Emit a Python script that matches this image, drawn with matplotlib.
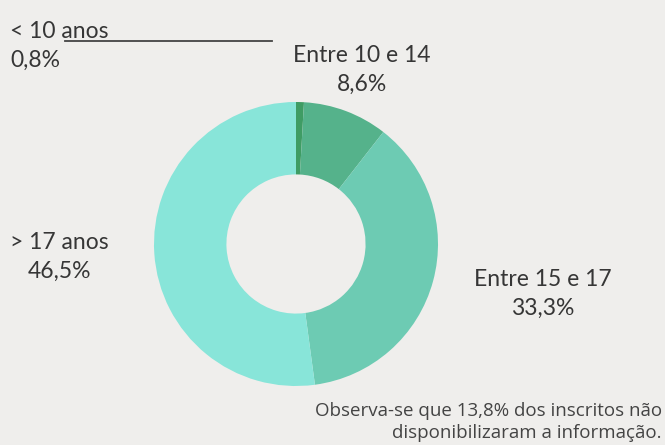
import matplotlib
matplotlib.use('Agg')
import matplotlib.pyplot as plt
from matplotlib.lines import Line2D

# faixas etarias dos inscritos
labels = ['< 10 anos', 'Entre 10 e 14', 'Entre 15 e 17', '> 17 anos']
shares = [0.8, 8.6, 33.3, 46.5]
pct_text = ['0,8%', '8,6%', '33,3%', '46,5%']
colors = ['#3f9c64', '#55b28b', '#6dcbb3', '#88e5d9']
note = 'Observa-se que 13,8% dos inscritos não\ndisponibilizaram a informação.'

W, H = 665, 445
bg = '#efeeec'
txt = '#363636'

fig = plt.figure(figsize=(W / 100, H / 100), dpi=100, facecolor=bg)

cx, cy, r = 296, 244, 142
ax = fig.add_axes([(cx - r) / W, (H - cy - r) / H, 2 * r / W, 2 * r / H])
ax.set_facecolor(bg)
ax.pie(shares, colors=colors, startangle=90, counterclock=False, radius=1,
       wedgeprops=dict(width=0.51, linewidth=0))
ax.set_xlim(-1, 1)
ax.set_ylim(-1, 1)
ax.axis('off')


def px(x, y):
    return x / W, 1 - y / H


fs = 16.5
lab_font = 'Lato'

# label positions in pixels (x, y, ha)
pos = [(10, 46, 'left'), (362, 70, 'center'), (543, 294, 'center'), (59, 257, 'center')]
for lab, p, (x, y, ha) in zip(labels, pct_text, pos):
    fig.text(*px(x, y), lab + '\n' + p, ha=ha, va='center', fontsize=fs,
             family=lab_font, color=txt, linespacing=1.5)

fig.add_artist(Line2D([65 / W, 272 / W], [1 - 41 / H, 1 - 41 / H],
                      transform=fig.transFigure, color='#444444', lw=1.3))

fig.text(*px(662, 422), note, ha='right', va='center', fontsize=13.5,
         family='Open Sans', color='#444444', linespacing=1.25)

fig.savefig('out.png', dpi=100, facecolor=bg)
